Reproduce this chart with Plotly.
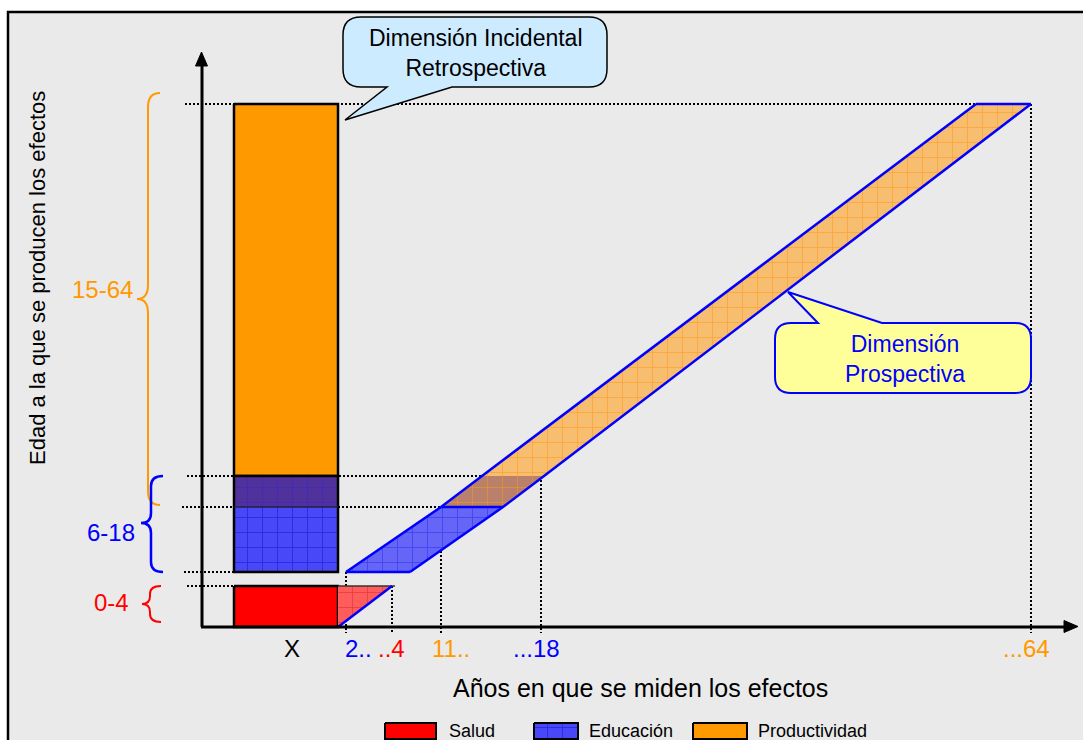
import plotly.graph_objects as go

# ---------------- data (schematic) ----------------
categories = ["Salud", "Educación", "Productividad"]
age_labels = ["0-4", "6-18", "15-64"]
year_tick_labels = ["X", "2..", "..4", "11..", "...18", "...64"]
callout_texts = ["Dimensión Incidental<br>Retrospectiva", "Dimensión<br>Prospectiva"]
y_title = "Edad a la que se producen los efectos"
x_title = "Años en que se miden los efectos"

# schematic age levels (vertical diagram coordinate of each age boundary)
lvl_0, lvl_4, lvl_6, lvl_11, lvl_15, lvl_64 = 627, 586, 572, 507, 476, 104
# schematic year positions on the horizontal axis
yr_x0, yr_2, yr_4, yr_11, yr_18, yr_64 = 338, 346, 392, 441, 541, 1031
bar_left = 234

# prospective band corner positions (left edge / right edge per level)
band_left_x = [346, 441, 482, 976]
band_right_x = [410, 503, 544, 1031]
band_levels = [lvl_6, lvl_11, lvl_15, lvl_64]

# ---------------- styles ----------------
FONT = "Liberation Sans, Arial, sans-serif"
C_RED, C_BLUE, C_ORANGE = "#FF0000", "#0000FF", "#FF9900"

fig = go.Figure()


def poly(xs, ys, bg, fg=None, line_color=None, lw=0):
    kw = dict(x=xs + [xs[0]], y=ys + [ys[0]], mode="lines", fill="toself",
              fillcolor=bg, hoverinfo="skip", showlegend=False,
              line=dict(width=lw, color=line_color or bg))
    if fg:
        kw["fillpattern"] = dict(shape="+", bgcolor=bg, fgcolor=fg, size=15,
                                 solidity=0.1, fillmode="replace")
    fig.add_trace(go.Scatter(**kw))


def line(xs, ys, color, width, dash="solid"):
    fig.add_trace(go.Scatter(x=xs, y=ys, mode="lines", hoverinfo="skip", showlegend=False,
                             line=dict(color=color, width=width, dash=dash)))


shapes = []
# background panel
shapes.append(dict(type="rect", xref="x", yref="y", x0=8, x1=1100, y0=12, y1=760,
                   fillcolor="#EAEAEA", line=dict(color="black", width=2.5), layer="below"))

# dotted reference lines
DOT = "2px,2px"
hdots = [(lvl_64, 185, band_left_x[3]), (lvl_15, 187, band_left_x[2]),
         (lvl_11, 182, band_left_x[1]), (lvl_6, 184, bar_left), (lvl_4, 187, bar_left)]
for yv, xa, xb in hdots:
    shapes.append(dict(type="line", xref="x", yref="y", x0=xa, x1=xb, y0=yv, y1=yv,
                       line=dict(color="black", width=2, dash=DOT), layer="below"))
vdots = [(yr_2, lvl_6), (yr_4, lvl_4), (yr_11, lvl_11), (yr_18, lvl_15), (yr_64, lvl_64)]
for xv, ytop in vdots:
    shapes.append(dict(type="line", xref="x", yref="y", x0=xv, x1=xv, y0=ytop, y1=633,
                       line=dict(color="black", width=2, dash=DOT), layer="below"))

# ---- retrospective bar ----
poly([bar_left, yr_x0, yr_x0, bar_left], [lvl_64, lvl_64, lvl_15, lvl_15], C_ORANGE,
     line_color="black", lw=2.5)
poly([bar_left, yr_x0, yr_x0, bar_left], [lvl_15, lvl_15, lvl_11, lvl_11], "#50329A", "#3A2AC0")
poly([bar_left, yr_x0, yr_x0, bar_left], [lvl_11, lvl_11, lvl_6, lvl_6], "#4848F6", "#2525E2")
line([bar_left, yr_x0, yr_x0, bar_left, bar_left], [lvl_15, lvl_15, lvl_6, lvl_6, lvl_15], "black", 2.5)
line([bar_left, yr_x0], [lvl_11, lvl_11], "#202040", 1.5)
poly([bar_left, yr_x0, yr_x0, bar_left], [lvl_4, lvl_4, lvl_0, lvl_0], C_RED,
     line_color="black", lw=2.5)

# ---- prospective band ----
poly([yr_x0, yr_4, yr_x0], [lvl_0, lvl_4, lvl_4], "#FF5C5C", "#E83A3A")
line([yr_x0, yr_4 + 3], [lvl_4, lvl_4], "#333333", 1.5)
line([yr_x0, yr_4], [lvl_0, lvl_4], C_BLUE, 2.5)

poly([band_left_x[0], band_right_x[0], band_right_x[1], band_left_x[1]],
     [band_levels[0], band_levels[0], band_levels[1], band_levels[1]], "#6565F8", "#4040EE")
poly([band_left_x[1], band_right_x[1], band_right_x[2], band_left_x[2]],
     [band_levels[1], band_levels[1], band_levels[2], band_levels[2]], "#B9806C", "#E8922E")
poly([band_left_x[2], band_right_x[2], band_right_x[3], band_left_x[3]],
     [band_levels[2], band_levels[2], band_levels[3], band_levels[3]], "#F6BE6E", "#FFA235")
line(band_left_x, band_levels, C_BLUE, 2.5)
line(band_right_x, band_levels, C_BLUE, 2.5)
line([band_left_x[0], band_right_x[0]], [band_levels[0]] * 2, C_BLUE, 2.5)
line([band_left_x[1], band_right_x[1]], [band_levels[1]] * 2, C_BLUE, 2.5)
line([band_left_x[3], band_right_x[3]], [band_levels[3]] * 2, C_BLUE, 2.5)

# ---- axes with arrows ----
shapes.append(dict(type="line", xref="x", yref="y", x0=202, x1=202, y0=lvl_0, y1=64,
                   line=dict(color="black", width=3)))
shapes.append(dict(type="path", xref="x", yref="y", path="M 195.5,66 L 201.5,52 L 207.5,66 Z",
                   fillcolor="black", line=dict(color="black", width=1)))
shapes.append(dict(type="line", xref="x", yref="y", x0=201, x1=1066, y0=lvl_0, y1=lvl_0,
                   line=dict(color="black", width=3)))
shapes.append(dict(type="path", xref="x", yref="y", path="M 1064,620.5 L 1078,626.5 L 1064,632.5 Z",
                   fillcolor="black", line=dict(color="black", width=1)))


# ---- braces ----
def brace(xe, xs, xt, y0, y1, ym, r, color, w):
    p = (f"M {xe},{y0} Q {xs},{y0} {xs},{y0 + r} L {xs},{ym - r} Q {xs},{ym} {xt},{ym} "
         f"Q {xs},{ym} {xs},{ym + r} L {xs},{y1 - r} Q {xs},{y1} {xe},{y1}")
    shapes.append(dict(type="path", xref="x", yref="y", path=p, line=dict(color=color, width=w)))


brace(160, 148, 137, 93, 505, 299, 14, C_ORANGE, 2)
brace(163, 151, 141, 476, 572, 523, 10, C_BLUE, 2.5)
brace(161, 150, 142, 586, 622, 604, 8, C_RED, 2)


# ---- callouts ----
def callout(x0, x1, y0, y1, r, bx0, bx1, tx, ty, side, fill, color, w):
    if side == "top":
        p = (f"M {x0 + r},{y0} L {bx0},{y0} L {tx},{ty} L {bx1},{y0} L {x1 - r},{y0} "
             f"Q {x1},{y0} {x1},{y0 + r} L {x1},{y1 - r} Q {x1},{y1} {x1 - r},{y1} "
             f"L {x0 + r},{y1} Q {x0},{y1} {x0},{y1 - r} L {x0},{y0 + r} Q {x0},{y0} {x0 + r},{y0} Z")
    else:
        p = (f"M {x0 + r},{y0} L {x1 - r},{y0} "
             f"Q {x1},{y0} {x1},{y0 + r} L {x1},{y1 - r} Q {x1},{y1} {x1 - r},{y1} "
             f"L {bx1},{y1} L {tx},{ty} L {bx0},{y1} "
             f"L {x0 + r},{y1} Q {x0},{y1} {x0},{y1 - r} L {x0},{y0 + r} Q {x0},{y0} {x0 + r},{y0} Z")
    shapes.append(dict(type="path", xref="x", yref="y", path=p, fillcolor=fill,
                       line=dict(color=color, width=w)))


callout(343, 607, 17, 87, 18, 387, 452, 345, 120, "bottom", "#CDEBFF", "black", 1.5)
callout(775, 1031, 323, 393, 16, 818, 882, 788, 292, "top", "#FFFF99", C_BLUE, 2)

# ---- legend (manual) ----
legend_box_x = [(385, 436), (534, 578), (693, 747)]
legend_fill = [(C_RED, None), ("#4848F6", "#2525E2"), (C_ORANGE, None)]
legend_text_x = [447, 587, 756]
for (xa, xb), (bg, fg) in zip(legend_box_x, legend_fill):
    poly([xa, xb, xb, xa], [723, 723, 739, 739], bg, fg)
    line([xa, xb, xb, xa, xa], [723, 723, 739, 739, 723], "black", 2)

annotations = []


def text(x, y, s, color="black", size=24, xanchor="center", angle=0):
    annotations.append(dict(x=x, y=y, xref="x", yref="y", text=s, showarrow=False,
                            xanchor=xanchor, yanchor="middle", textangle=angle,
                            font=dict(family=FONT, size=size, color=color)))


for name, tx in zip(categories, legend_text_x):
    text(tx, 731, name, size=18, xanchor="left")

# axis titles
text(37, 278, y_title, size=22, angle=-90)
text(640, 688, x_title, size=25)

# year tick labels
tick_x = [292, 358, 391, 451, 536, 1026]
tick_colors = ["black", C_BLUE, C_RED, C_ORANGE, C_BLUE, C_ORANGE]
for s, xv, c in zip(year_tick_labels, tick_x, tick_colors):
    text(xv, 648, s, color=c, size=24)

# age range labels
age_label_pos = [(131, 602), (137, 532), (135, 289)]
age_colors = [C_RED, C_BLUE, C_ORANGE]
for s, (xv, yv), c in zip(age_labels, age_label_pos, age_colors):
    text(xv, yv, s, color=c, size=24, xanchor="right")

# callout texts
text(476, 53, callout_texts[0], size=23)
text(905, 359, callout_texts[1], color=C_BLUE, size=23)

fig.update_layout(
    width=1083, height=740, margin=dict(l=0, r=0, t=0, b=0),
    paper_bgcolor="white", plot_bgcolor="white",
    xaxis=dict(range=[0, 1083], visible=False, fixedrange=True),
    yaxis=dict(range=[740, 0], visible=False, fixedrange=True),
    shapes=shapes, annotations=annotations, showlegend=False,
)
fig.write_html("out.html", config={"displayModeBar": False},
               post_script="document.body.style.margin='0';document.body.style.overflow='hidden';")
